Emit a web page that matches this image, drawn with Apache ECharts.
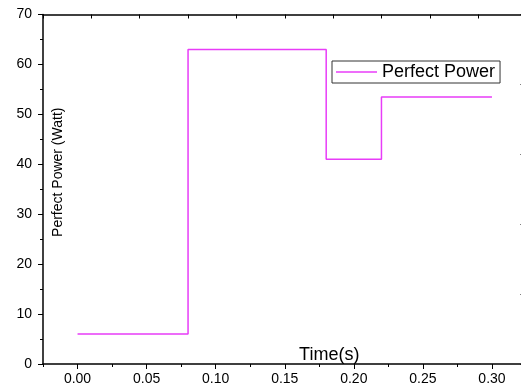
<!DOCTYPE html>
<html>
<head>
<meta charset="utf-8">
<script src="https://cdn.jsdelivr.net/npm/echarts@6/dist/echarts.min.js"></script>
<style>
  html, body { margin: 0; padding: 0; background: #fff; }
  #chart { width: 521px; height: 385px; }
</style>
</head>
<body>
<div id="chart"></div>
<script>
// step profile of the perfect power
const times = [0, 0.08, 0.18, 0.22, 0.30]
const power = [6, 63, 41, 53.5, 53.5]
const xTicks = [0, 0.05, 0.10, 0.15, 0.20, 0.25, 0.30]
const seriesName = 'Perfect Power'

let pts = []
for (let i = 0; i < times.length; i++) {
    pts.push([times[i], power[i]])
}

const font = 'Liberation Sans, Arial, sans-serif'
const axisCol = '#000'
const lineCol = '#e83cf8'

option = {
    backgroundColor: '#fff',
    animation: false,
    grid: { left: 43, top: 14.5, right: -5.5, bottom: 21, containLabel: false, outerBoundsMode: 'none' },
    legend: {
        data: [seriesName],
        left: 332,
        top: 61,
        padding: [2, 5, 2, 4],
        borderColor: '#333',
        borderWidth: 1,
        icon: 'rect',
        itemWidth: 41,
        itemHeight: 1.5,
        itemGap: 5,
        textStyle: { fontFamily: font, fontSize: 18, color: '#000' }
    },
    xAxis: [
        {
            type: 'value',
            min: -0.025,
            max: 0.325,
            name: 'Time(s)',
            nameLocation: 'middle',
            nameGap: -18,
            nameMoveOverlap: false,
            nameTextStyle: { fontFamily: font, fontSize: 18, color: '#000', padding: [0, 0, 0, 89] },
            axisLine: { onZero: false, lineStyle: { color: axisCol, width: 1.5 } },
            axisTick: { length: 5, customValues: xTicks, lineStyle: { color: axisCol } },
            axisLabel: {
                customValues: xTicks,
                margin: 8,
                fontFamily: font, fontSize: 14, color: '#000',
                formatter: v => v.toFixed(2)
            },
            splitLine: { show: false }
        },
        {
            // top frame
            type: 'value', position: 'top', min: 0, max: 10, interval: 1,
            axisLine: { show: true, onZero: false, lineStyle: { color: axisCol, width: 1.5 } },
            axisTick: { inside: true, length: 4, lineStyle: { color: axisCol } },
            axisLabel: { show: false },
            splitLine: { show: false }
        },
        {
            // bottom minor ticks
            type: 'value', position: 'bottom', min: -0.025, max: 0.325, interval: 0.05,
            axisLine: { show: false, onZero: false },
            axisTick: { length: 3, lineStyle: { color: axisCol } },
            axisLabel: { show: false },
            splitLine: { show: false }
        }
    ],
    yAxis: [
        {
            type: 'value',
            min: 0,
            max: 70,
            interval: 10,
            name: 'Perfect Power (Watt)',
            nameLocation: 'middle',
            nameGap: -22,
            nameMoveOverlap: false,
            nameTextStyle: { fontFamily: font, fontSize: 14, color: '#000', padding: [0, 0, 0, 34] },
            axisLine: { show: true, onZero: false, lineStyle: { color: axisCol, width: 1.5 } },
            axisTick: { length: 5, lineStyle: { color: axisCol } },
            minorTick: { show: true, splitNumber: 2, length: 3, lineStyle: { color: axisCol } },
            axisLabel: { margin: 11, fontFamily: font, fontSize: 14, color: '#000' },
            splitLine: { show: false }
        },
        {
            // right frame (mostly off the picture)
            type: 'value', position: 'right', min: 0, max: 5, interval: 1,
            axisLine: { show: true, onZero: false, lineStyle: { color: axisCol, width: 1.5 } },
            axisTick: { inside: true, length: 6, lineStyle: { color: axisCol } },
            axisLabel: { show: false },
            splitLine: { show: false }
        }
    ],
    series: [
        {
            name: seriesName,
            type: 'line',
            step: 'end',
            symbol: 'none',
            data: pts,
            lineStyle: { color: lineCol, width: 1.5 },
            itemStyle: { color: lineCol }
        }
    ]
}

const dom = document.getElementById('chart')
const myChart = echarts.init(dom)
if (option && typeof option === 'object') {
    myChart.setOption(option, true)
}
</script>
</body>
</html>
